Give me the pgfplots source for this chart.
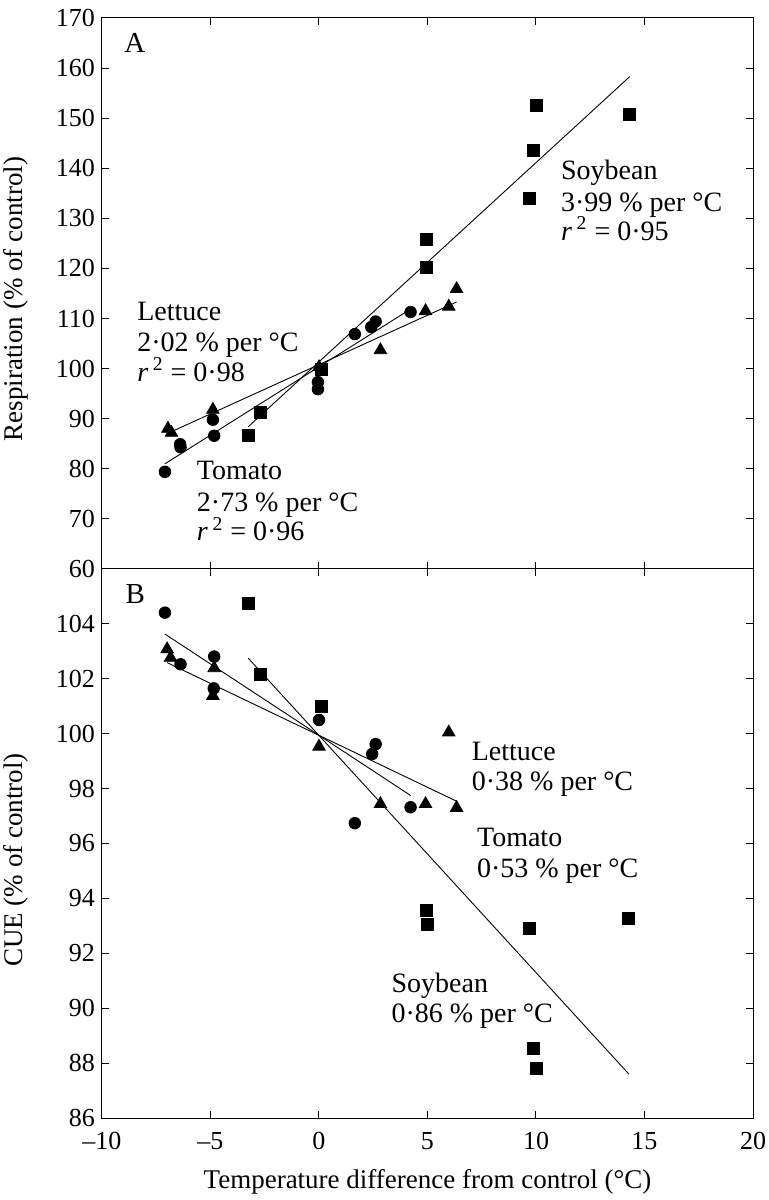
\documentclass[border=0pt]{standalone}
\usepackage{pgfplots}
\pgfplotsset{compat=1.18}
\usepackage{fontspec}
\setmainfont{Liberation Serif}
\newcommand{\ann}{\fontsize{14}{16}\selectfont}
\begin{document}
\begin{tikzpicture}
\path[use as bounding box] (-51pt,-41pt) rectangle (333pt,559pt);
\pgfplotsset{
  myaxis/.style={
    scale only axis, width=325.5pt,
    xmin=-10, xmax=20, xtick={-10,-5,...,20},
    tick align=inside, major tick length=3.5pt,
    axis line style={line width=0.5pt}, every tick/.style={black, line width=0.5pt},
    /pgf/number format/assume math mode=true,
    tick label style={font=\fontsize{13}{15}\selectfont},
    label style={font=\fontsize{13.5}{16}\selectfont},
    clip=false,
  },
  sq/.style={only marks, mark=square*, mark size=3pt, black},
  ci/.style={only marks, mark=*, mark size=2.9pt, black},
  tr/.style={only marks, mark=triangle*, mark size=3.6pt, black},
  fit/.style={black, line width=0.45pt, no marks},
}
% Top panel: Respiration
\begin{axis}[myaxis, at={(0,274.5pt)}, anchor=south west, height=275.5pt,
  ymin=60, ymax=170, ytick={60,70,...,170}, xticklabels={},
  ylabel={Respiration (\% of control)},
  ylabel style={at={(axis description cs:-0.133,0.49)}, anchor=center}]
\addplot[sq] coordinates {(10.02,152.6) (14.32,150.8) (9.88,143.5) (9.68,134.0) (4.97,125.7) (4.93,120.2) (0.11,99.9) (-2.69,91.3) (-3.26,86.6)};
\addplot[ci] coordinates {(-7.1,79.4) (-6.38,84.3) (-6.4,84.9) (-4.83,86.6) (-4.89,89.8) (-0.05,97.3) (-0.05,95.9) (1.65,106.9) (2.41,108.3) (2.61,109.4) (4.22,111.3)};
\addplot[tr] coordinates {(-6.96,88.0) (-6.8,87.2) (-4.89,91.8) (0,100.3) (2.83,103.7) (4.91,111.5) (5.98,112.4) (6.34,115.9)};
\addplot[fit] coordinates {(-3.26,88.4) (14.32,158.3)};
\addplot[fit] coordinates {(-7.1,81.0) (4.3,112.1)};
\addplot[fit] coordinates {(-6.96,87.1) (6.34,113.3)};
\node[anchor=base west, font=\fontsize{14.5}{16}\selectfont] at (axis cs:-9.3,163.1) {A};
\node[anchor=base west, font=\ann] at (axis cs:10.83,137.7) {Soybean};
\node[anchor=base west, font=\ann] at (axis cs:10.83,131.4) {3·99 \% per °C};
\node[anchor=base west, font=\ann] at (axis cs:10.83,125.6) {\textit{r}\,\textsuperscript{2} = 0·95};
\node[anchor=base west, font=\ann] at (axis cs:-8.7,109.7) {Lettuce};
\node[anchor=base west, font=\ann] at (axis cs:-8.7,103.4) {2·02 \% per °C};
\node[anchor=base west, font=\ann] at (axis cs:-8.7,97.5) {\textit{r}\,\textsuperscript{2} = 0·98};
\node[anchor=base west, font=\ann] at (axis cs:-5.95,77.8) {Tomato};
\node[anchor=base west, font=\ann] at (axis cs:-5.95,71.5) {2·73 \% per °C};
\node[anchor=base west, font=\ann] at (axis cs:-5.95,65.6) {\textit{r}\,\textsuperscript{2} = 0·96};
\end{axis}
% Bottom panel: CUE
\begin{axis}[myaxis, at={(0,0)}, anchor=south west, height=274.5pt,
  ymin=86, ymax=106, ytick={86,88,...,104},
  xticklabels={–10,–5,0,5,10,15,20},
  xticklabel style={yshift=-3.5pt},
  ylabel={CUE (\% of control)},
  ylabel style={at={(axis description cs:-0.133,0.47)}, anchor=center},
  xlabel={Temperature difference from control (°C)},
  xlabel style={at={(axis description cs:0.5,-0.116)}, anchor=center}]
\addplot[sq] coordinates {(-3.26,104.74) (-2.69,102.17) (0.11,100.99) (4.93,93.56) (4.99,93.05) (9.68,92.9) (14.28,93.26) (9.86,88.53) (10.02,87.81)};
\addplot[ci] coordinates {(-7.1,104.41) (-6.38,102.53) (-4.83,102.81) (-4.85,101.65) (0,100.5) (2.61,99.62) (2.45,99.26) (4.22,97.32) (1.65,96.74)};
\addplot[tr] coordinates {(-7.0,103.08) (-6.84,102.77) (-4.83,102.39) (-4.89,101.38) (0,99.53) (5.98,100.05) (2.83,97.44) (4.91,97.44) (6.34,97.3)};
\addplot[fit] coordinates {(-7.1,103.63) (4.22,97.75)};
\addplot[fit] coordinates {(-7.0,102.59) (6.34,97.54)};
\addplot[fit] coordinates {(-3.26,102.75) (14.28,87.6)};
\node[anchor=base west, font=\fontsize{14.5}{16}\selectfont] at (axis cs:-9.24,104.74) {B};
\node[anchor=base west, font=\ann] at (axis cs:6.72,99.04) {Lettuce};
\node[anchor=base west, font=\ann] at (axis cs:6.72,97.93) {0·38 \% per °C};
\node[anchor=base west, font=\ann] at (axis cs:6.96,95.90) {Tomato};
\node[anchor=base west, font=\ann] at (axis cs:6.96,94.77) {0·53 \% per °C};
\node[anchor=base west, font=\ann] at (axis cs:3.02,90.59) {Soybean};
\node[anchor=base west, font=\ann] at (axis cs:3.02,89.47) {0·86 \% per °C};
\end{axis}
\end{tikzpicture}
\end{document}
